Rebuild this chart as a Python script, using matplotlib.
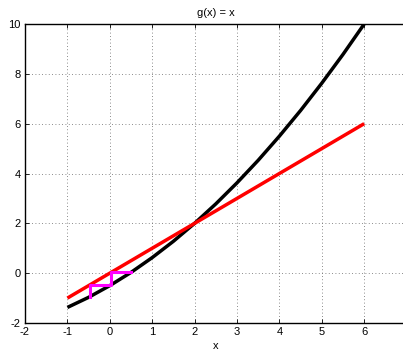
import matplotlib
matplotlib.use("Agg")
import matplotlib.pyplot as plt

# black curve g(x)
gx = [-1.0, -0.5, 0.0, 0.5, 1.0, 1.5, 2.0, 2.5, 3.0, 3.5, 4.0, 4.5, 5.0, 5.5, 6.0]
gy = [-1.375, -0.97, -0.5, 0.03, 0.625, 1.28, 2.0, 2.78, 3.625, 4.53, 5.5, 6.53, 7.625, 8.78, 10.0]
# red line y = x
lx = [-1, 6]
ly = [-1, 6]
# magenta cobweb
cx = [0.5, 0.03, 0.03, -0.47, -0.47]
cy = [0.03, 0.03, -0.47, -0.47, -0.94]

xticks = [-2, -1, 0, 1, 2, 3, 4, 5, 6, 7]
yticks = [-2, 0, 2, 4, 6, 8, 10]

plt.rcParams['font.family'] = ['Liberation Sans', 'DejaVu Sans']
fig = plt.figure(figsize=(4.03, 3.52), dpi=100)
ax = fig.add_axes([25/403, 1-323/352, (406.6-25)/403, (323-24)/352])

ax.plot(gx, gy, color='black', lw=2.5, solid_capstyle='butt', zorder=3)
ax.plot(lx, ly, color='red', lw=2.5, solid_capstyle='butt', zorder=4)
ax.plot(cx, cy, color='magenta', lw=2.2, zorder=5)

ax.set_xlim(-2, 7)
ax.set_ylim(-2, 10)
ax.set_xticks(xticks)
ax.set_yticks(yticks)
ax.set_xticklabels([str(t) for t in xticks])
ax.set_yticklabels([str(t) for t in yticks])
ax.tick_params(direction='in', length=3, width=0.6, labelsize=8, top=True, right=True, pad=3)
ax.grid(True, linestyle=(0, (1, 3)), color='#666666', linewidth=0.6)
for s in ax.spines.values():
    s.set_linewidth(1.0)
ax.set_title('g(x) = x', fontsize=8, pad=6)
ax.set_xlabel('x', fontsize=8, labelpad=3)

fig.savefig('out.png', dpi=100)
